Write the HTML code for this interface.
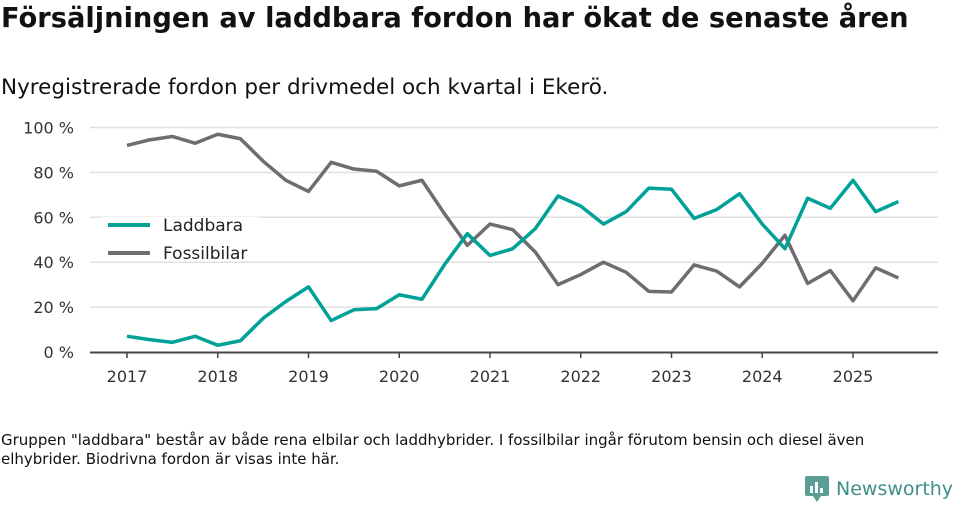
<!DOCTYPE html>
<html><head><meta charset="utf-8"><style>
body{margin:0;background:#fff;font-family:"DejaVu Sans","Liberation Sans",sans-serif;}
#wrap{position:relative;width:960px;height:505px;overflow:hidden}
</style></head><body>
<div id="wrap">
<div style="position:absolute;left:1px;top:3px;font-size:27.3px;font-weight:bold;color:#111">Försäljningen av laddbara fordon har ökat de senaste åren</div>
<div style="position:absolute;left:1px;top:75px;font-size:21.5px;color:#111">Nyregistrerade fordon per drivmedel och kvartal i Ekerö.</div>
<svg id="chart" width="960" height="505" style="position:absolute;left:0;top:0"></svg>
<div style="position:absolute;left:1px;top:431px;font-size:15px;line-height:19px;color:#111;width:900px">Gruppen "laddbara" består av både rena elbilar och laddhybrider. I fossilbilar ingår förutom bensin och diesel även elhybrider. Biodrivna fordon är visas inte här.</div>
<div style="position:absolute;left:805px;top:475px;height:28px;display:flex;align-items:center">
<svg width="24" height="26"><rect x="0" y="0" width="24" height="20" rx="2" fill="#5a9e95"/><path d="M8 20 L12 26 L16 20Z" fill="#5a9e95"/><rect x="5" y="10" width="3" height="7" fill="#fff"/><rect x="10" y="6" width="3" height="11" fill="#fff"/><rect x="15" y="12" width="3" height="5" fill="#fff"/></svg>
<span style="font-size:19px;color:#3f8f86;margin-left:7px">Newsworthy</span></div>
</div>
<script>
const years=["2017","2018","2019","2020","2021","2022","2023","2024","2025"];
const yTicks=[0,20,40,60,80,100];
const laddbara=[7,5.5,4.3,7,3,5,15,22.5,29,14,18.8,19.3,25.5,23.5,39,52.7,43,46,55,69.5,65,57,62.5,73,72.5,59.5,63.5,70.5,57,46,68.5,64,76.5,62.5,67];
const fossil=[92,94.5,96,93,97,95,85,76.5,71.5,84.5,81.5,80.5,74,76.5,61.5,47.5,57,54.5,44.5,30,34.5,40,35.5,27,26.7,38.8,36,29,39.5,52,30.5,36.3,22.8,37.5,33];
const svg=document.getElementById('chart');
const NS='http://www.w3.org/2000/svg';
const X=t=>127+t*(853-127)/8;
const Y=v=>352-v*2.245;
function mk(tag,attrs){const e=document.createElementNS(NS,tag);for(const k in attrs)e.setAttribute(k,attrs[k]);svg.appendChild(e);return e;}
yTicks.forEach(v=>{
 if(v>0){const g=mk('line',{x1:90,x2:938,y1:Y(v),y2:Y(v),stroke:'#e0e0e0','stroke-width':1.5});
 
 }
 const t=mk('text',{x:74,y:Y(v)+6,'text-anchor':'end','font-size':16,fill:'#333','font-family':'DejaVu Sans, Liberation Sans, sans-serif'});
 t.textContent=v+' %';
 
 
});
const ax=mk('line',{x1:90,x2:938,y1:352.5,y2:352.5,stroke:'#444','stroke-width':2});


years.forEach((y,i)=>{
 const tk=mk('line',{x1:X(i),x2:X(i),y1:352,y2:358,stroke:'#444','stroke-width':1.5});
 
 
 const t=mk('text',{x:X(i),y:382,'text-anchor':'middle','font-size':16,fill:'#333','font-family':'DejaVu Sans, Liberation Sans, sans-serif'});
 t.textContent=y;
 
 
});
const lg=mk('rect',{x:102,y:217,width:157,height:44,fill:'#fff'});


function line(data,color,name){
 const p=mk('polyline',{points:data.map((v,i)=>X(i/4)+','+Y(v)).join(' '),fill:'none',stroke:color,'stroke-width':3.5,'stroke-linejoin':'round'});
 
 
}
line(fossil,'#6e6d72','fossilbilar-line');
line(laddbara,'#00a196','laddbara-line');
[['Laddbara','#00a196',225],['Fossilbilar','#6e6d72',253]].forEach(([n,c,y])=>{
 const l=mk('line',{x1:108,x2:150,y1:y,y2:y,stroke:c,'stroke-width':4});
 
 
 const t=mk('text',{x:163,y:y+6,'font-size':17,fill:'#222','font-family':'DejaVu Sans, Liberation Sans, sans-serif'});
 t.textContent=n;
 
 
});
</script>
</body></html>
